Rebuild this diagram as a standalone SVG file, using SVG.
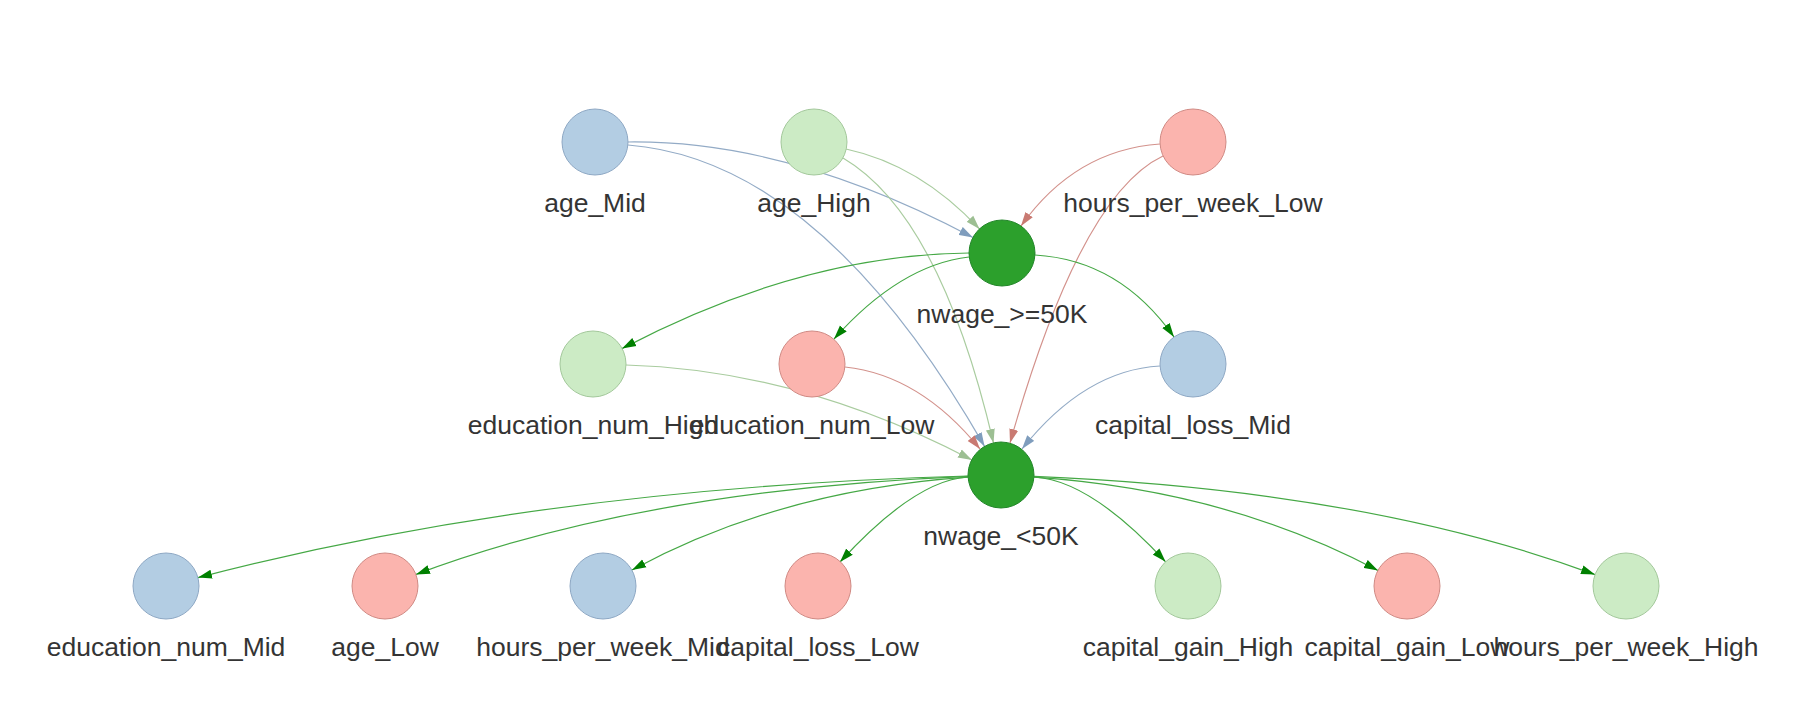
<svg xmlns="http://www.w3.org/2000/svg" width="1794" height="714" viewBox="0 0 1794 714">
<style>
  .lbl { font-family: "Liberation Sans", Arial, sans-serif; font-size: 26.5px; fill: #343434; text-anchor: middle; }
  .nb { fill: #b3cde3; stroke: #8ea8c4; stroke-width: 1; }
  .ng { fill: #ccebc5; stroke: #a3c89b; stroke-width: 1; }
  .nr { fill: #fbb4ae; stroke: #d08a84; stroke-width: 1; }
  .nd { fill: #2ca02c; stroke: #23862a; stroke-width: 1; }
  .e { fill: none; stroke-width: 1.2; }
  .eb { stroke: #93abc6; marker-end: url(#ab); }
  .eg { stroke: #a9cc9f; marker-end: url(#ag); }
  .er { stroke: #d3928c; marker-end: url(#ar); }
  .ed { stroke: #45a845; marker-end: url(#ad); }
</style>
<defs>
  <marker id="ab" markerUnits="userSpaceOnUse" markerWidth="14" markerHeight="10" viewBox="0 0 14 10" refX="14" refY="5" orient="auto"><path d="M0,0.5 L14,5 L0,9.5 z" fill="#7f9dbd"/></marker>
  <marker id="ag" markerUnits="userSpaceOnUse" markerWidth="14" markerHeight="10" viewBox="0 0 14 10" refX="14" refY="5" orient="auto"><path d="M0,0.5 L14,5 L0,9.5 z" fill="#9dbf93"/></marker>
  <marker id="ar" markerUnits="userSpaceOnUse" markerWidth="14" markerHeight="10" viewBox="0 0 14 10" refX="14" refY="5" orient="auto"><path d="M0,0.5 L14,5 L0,9.5 z" fill="#c97a72"/></marker>
  <marker id="ad" markerUnits="userSpaceOnUse" markerWidth="14" markerHeight="10" viewBox="0 0 14 10" refX="14" refY="5" orient="auto"><path d="M0,0.5 L14,5 L0,9.5 z" fill="#008000"/></marker>
</defs>
<rect width="1794" height="714" fill="#ffffff"/>
<g id="connectors">
  <path class="e eb" d="M628,142 Q790,140 973,237.5"/>
  <path class="e eb" d="M628,145 Q820,160 984.6,446.4"/>
  <path class="e eg" d="M843,158 Q940,215 993.5,443"/>
  <path class="e eg" d="M846,149 Q920,165 979.5,229"/>
  <path class="e er" d="M1160,144 Q1075,150 1021,226"/>
  <path class="e er" d="M1163,156 Q1080,195 1010,443"/>
  <path class="e ed" d="M969,253 Q800,255 622,348.6"/>
  <path class="e ed" d="M969,257 Q900,265 834,339"/>
  <path class="e ed" d="M1035,255 Q1120,260 1174,337"/>
  <path class="e eg" d="M626,365 Q800,370 972,460"/>
  <path class="e er" d="M845,367 Q920,375 980,449"/>
  <path class="e eb" d="M1160,366 Q1085,370 1022,449"/>
  <path class="e ed" d="M968,476 Q540,488 198,577.6"/>
  <path class="e ed" d="M968,476.4 Q640,490 416,574.4"/>
  <path class="e ed" d="M968,477.2 Q780,490 632,570"/>
  <path class="e ed" d="M968,477 Q915,480 840,562"/>
  <path class="e ed" d="M1034,477 Q1090,480 1165.6,561.8"/>
  <path class="e ed" d="M1034,477.2 Q1226,490 1378,570.5"/>
  <path class="e ed" d="M1034,476.4 Q1366,490 1595,574.6"/>
</g>
<g id="age_Mid"><circle class="nb" cx="595" cy="142" r="33"/><text class="lbl" x="595" y="212">age_Mid</text></g>
<g id="age_High"><circle class="ng" cx="814" cy="142" r="33"/><text class="lbl" x="814" y="212">age_High</text></g>
<g id="hours_per_week_Low"><circle class="nr" cx="1193" cy="142" r="33"/><text class="lbl" x="1193" y="212">hours_per_week_Low</text></g>
<g id="nwage_ge50K"><circle class="nd" cx="1002" cy="253" r="33"/><text class="lbl" x="1002" y="323">nwage_&gt;=50K</text></g>
<g id="education_num_High"><circle class="ng" cx="593" cy="364" r="33"/><text class="lbl" x="593" y="434">education_num_High</text></g>
<g id="education_num_Low"><circle class="nr" cx="812" cy="364" r="33"/><text class="lbl" x="812" y="434">education_num_Low</text></g>
<g id="capital_loss_Mid"><circle class="nb" cx="1193" cy="364" r="33"/><text class="lbl" x="1193" y="434">capital_loss_Mid</text></g>
<g id="nwage_lt50K"><circle class="nd" cx="1001" cy="475" r="33"/><text class="lbl" x="1001" y="545">nwage_&lt;50K</text></g>
<g id="education_num_Mid"><circle class="nb" cx="166" cy="586" r="33"/><text class="lbl" x="166" y="656">education_num_Mid</text></g>
<g id="age_Low"><circle class="nr" cx="385" cy="586" r="33"/><text class="lbl" x="385" y="656">age_Low</text></g>
<g id="hours_per_week_Mid"><circle class="nb" cx="603" cy="586" r="33"/><text class="lbl" x="603" y="656">hours_per_week_Mid</text></g>
<g id="capital_loss_Low"><circle class="nr" cx="818" cy="586" r="33"/><text class="lbl" x="818" y="656">capital_loss_Low</text></g>
<g id="capital_gain_High"><circle class="ng" cx="1188" cy="586" r="33"/><text class="lbl" x="1188" y="656">capital_gain_High</text></g>
<g id="capital_gain_Low"><circle class="nr" cx="1407" cy="586" r="33"/><text class="lbl" x="1407" y="656">capital_gain_Low</text></g>
<g id="hours_per_week_High"><circle class="ng" cx="1626" cy="586" r="33"/><text class="lbl" x="1626" y="656">hours_per_week_High</text></g>
</svg>
